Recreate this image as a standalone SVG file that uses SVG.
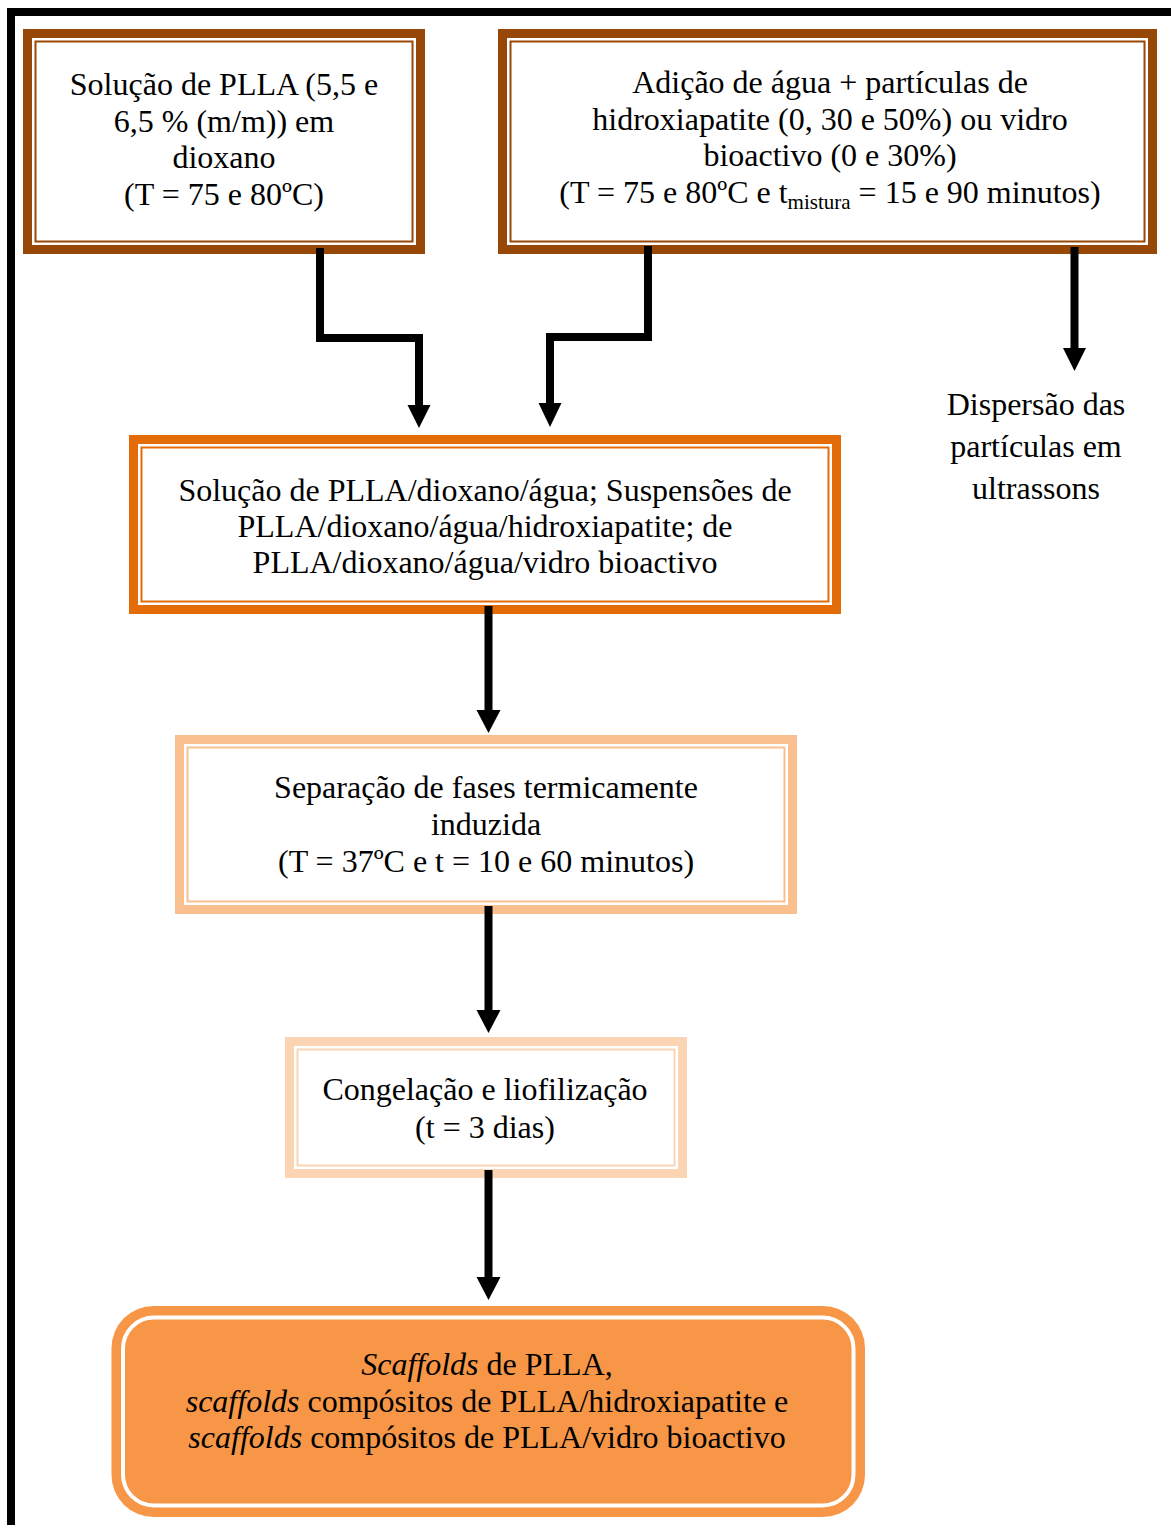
<svg xmlns="http://www.w3.org/2000/svg" width="1171" height="1525" viewBox="0 0 1171 1525">
<style>
text{font-family:"Liberation Serif","Times New Roman",serif;font-size:32px;fill:#000;text-anchor:middle}
.sub{font-size:21px}
.it{font-style:italic}
.thick{fill:none;stroke-width:9}
.thin{fill:none;stroke-width:2}
.brown{stroke:#984806}
.dark{stroke:#E36C09}
.light{stroke:#FABF8F}
.pale{stroke:#FBD4B4}
.conn path{fill:none;stroke:#000;stroke-width:8;stroke-linejoin:miter;stroke-linecap:butt}
.conn polygon{fill:#000}
</style>
<rect x="0" y="0" width="1171" height="1525" fill="#fff"/>
<path d="M11,1535 V12 H1185" fill="none" stroke="#000" stroke-width="8"/>

<g id="n1">
<rect x="23" y="29" width="402" height="225" fill="#fff"/>
<rect class="thick brown" x="27.5" y="33.5" width="393" height="216"/>
<rect class="thin brown" x="35.5" y="41.5" width="377" height="200"/>
<text x="224" y="95">Solução de PLLA (5,5 e</text>
<text x="224" y="132">6,5 % (m/m)) em</text>
<text x="224" y="168">dioxano</text>
<text x="224" y="205">(T = 75 e 80ºC)</text>
</g>

<g id="n2">
<rect x="498" y="29" width="659" height="225" fill="#fff"/>
<rect class="thick brown" x="502.5" y="33.5" width="650" height="216"/>
<rect class="thin brown" x="510.5" y="41.5" width="634" height="200"/>
<text x="830" y="93">Adição de água + partículas de</text>
<text x="830" y="130">hidroxiapatite (0, 30 e 50%) ou vidro</text>
<text x="830" y="166">bioactivo (0 e 30%)</text>
<text x="830" y="203">(T = 75 e 80ºC e t<tspan class="sub" dy="6">mistura</tspan><tspan dy="-6"> = 15 e 90 minutos)</tspan></text>
</g>

<g id="n3">
<text x="1036" y="415">Dispersão das</text>
<text x="1036" y="457">partículas em</text>
<text x="1036" y="499">ultrassons</text>
</g>

<g id="n4">
<rect x="129" y="435" width="712" height="179" fill="#fff"/>
<rect class="thick dark" x="133.5" y="439.5" width="703" height="170"/>
<rect class="thin dark" x="141.5" y="447.5" width="687" height="154"/>
<text x="485" y="501">Solução de PLLA/dioxano/água; Suspensões de</text>
<text x="485" y="537">PLLA/dioxano/água/hidroxiapatite; de</text>
<text x="485" y="573">PLLA/dioxano/água/vidro bioactivo</text>
</g>

<g id="n5">
<rect x="175" y="735" width="622" height="179" fill="#fff"/>
<rect class="thick light" x="179.5" y="739.5" width="613" height="170"/>
<rect class="thin light" x="187.5" y="747.5" width="597" height="154"/>
<text x="486" y="798">Separação de fases termicamente</text>
<text x="486" y="835">induzida</text>
<text x="486" y="872">(T = 37ºC e t = 10 e 60 minutos)</text>
</g>

<g id="n6">
<rect x="285" y="1037" width="402" height="141" fill="#fff"/>
<rect class="thick pale" x="289.5" y="1041.5" width="393" height="132"/>
<rect class="thin pale" x="297.5" y="1049.5" width="377" height="116"/>
<text x="485" y="1100">Congelação e liofilização</text>
<text x="485" y="1138">(t = 3 dias)</text>
</g>

<g id="n7">
<rect x="111.5" y="1306" width="753.5" height="211" rx="42" ry="42" fill="#F79646"/>
<rect x="123" y="1317.5" width="730.5" height="188" rx="31" ry="31" fill="none" stroke="#fff" stroke-width="4"/>
<text x="487" y="1375"><tspan class="it">Scaffolds</tspan> de PLLA,</text>
<text x="487" y="1412"><tspan class="it">scaffolds</tspan> compósitos de PLLA/hidroxiapatite e</text>
<text x="487" y="1448"><tspan class="it">scaffolds</tspan> compósitos de PLLA/vidro bioactivo</text>
</g>

<g id="connectors" class="conn">
<path d="M320,248 V338 H419 V406"/>
<polygon points="407.5,405 430.5,405 419,428"/>
<path d="M648,246 V337 H550 V404"/>
<polygon points="538.5,403 561.5,403 550,427"/>
<path d="M1074.5,247 V349"/>
<polygon points="1063,348 1086,348 1074.5,371"/>
<path d="M488.5,606 V711"/>
<polygon points="476.5,710 500.5,710 488.5,733"/>
<path d="M488.5,906 V1011"/>
<polygon points="476.5,1010 500.5,1010 488.5,1033"/>
<path d="M488.5,1170 V1278"/>
<polygon points="476.5,1277 500.5,1277 488.5,1300"/>
</g>
</svg>
